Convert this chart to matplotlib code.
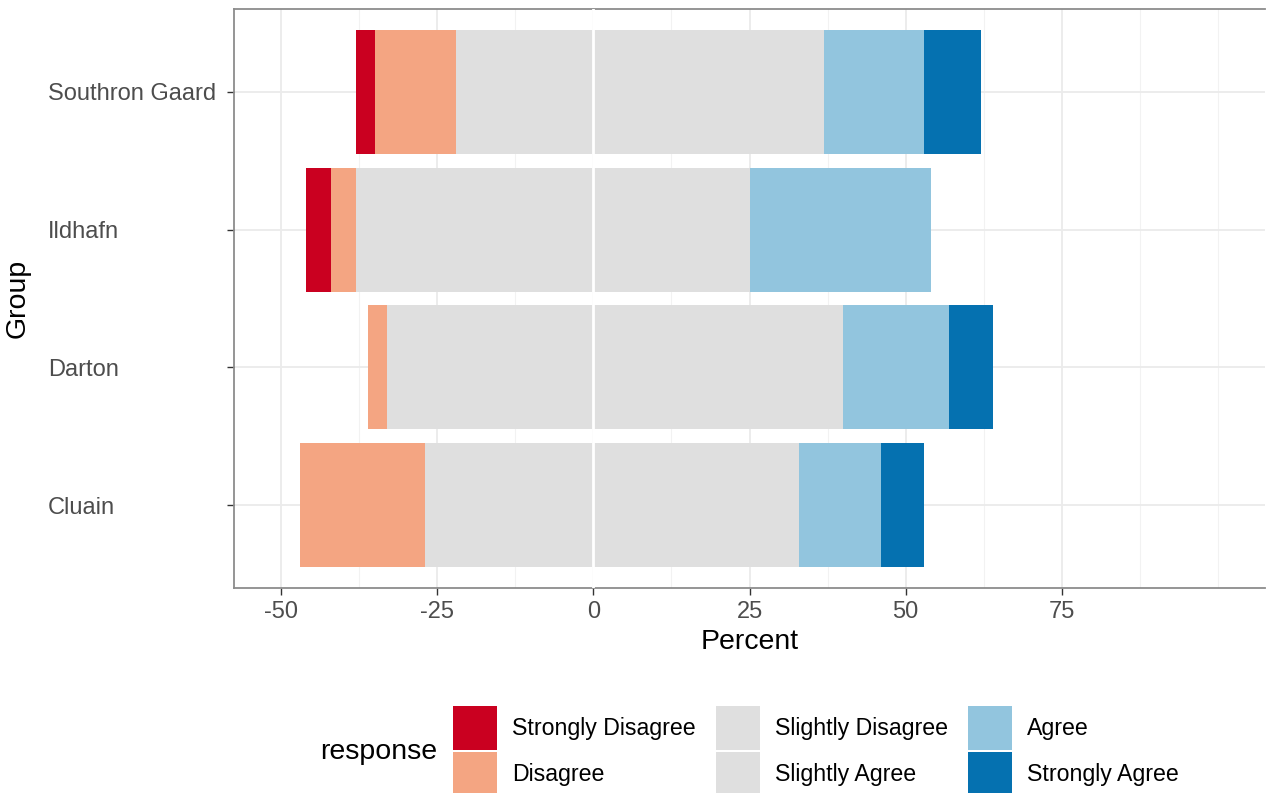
import numpy as np
import matplotlib.pyplot as plt
from matplotlib.patches import Patch

plt.rcParams['font.family'] = ['Liberation Sans', 'DejaVu Sans']
plt.rcParams['axes.unicode_minus'] = False

groups = ['Cluain', 'Darton', 'Ildhafn', 'Southron Gaard']
responses = ['Strongly Disagree', 'Disagree', 'Slightly Disagree',
             'Slightly Agree', 'Agree', 'Strongly Agree']
colors = ['#CA0020', '#F4A582', '#DFDFDF', '#DFDFDF', '#92C5DE', '#0571B0']

strongly_disagree = [0, 0, 4, 3]
disagree = [20, 3, 4, 13]
slightly_disagree = [27, 33, 38, 22]
slightly_agree = [33, 40, 25, 37]
agree = [13, 17, 29, 16]
strongly_agree = [7, 7, 0, 9]

xticks = [-50, -25, 0, 25, 50, 75]
xminor = [-37.5, -12.5, 12.5, 37.5, 62.5, 87.5, 100]

fig = plt.figure(figsize=(12.66, 7.93), dpi=100)
W, H = 1266, 793
ax = fig.add_axes([234 / W, 1 - 588 / H, 1031 / W, 579 / H])

y = np.arange(1, len(groups) + 1)
h = 0.9

# negative side: stack outward from zero
neg = [slightly_disagree, disagree, strongly_disagree]
neg_cols = [colors[2], colors[1], colors[0]]
left = np.zeros(len(groups))
for vals, c in zip(neg, neg_cols):
    v = np.array(vals, dtype=float)
    ax.barh(y, -v, left=-left, height=h, color=c, zorder=2)
    left += v

pos = [slightly_agree, agree, strongly_agree]
pos_cols = [colors[3], colors[4], colors[5]]
left = np.zeros(len(groups))
for vals, c in zip(pos, pos_cols):
    v = np.array(vals, dtype=float)
    ax.barh(y, v, left=left, height=h, color=c, zorder=2)
    left += v

ax.axvline(0, color='white', lw=2, zorder=3)

ax.set_xlim(-57.5, 107.5)
ax.set_ylim(0.4, 4.6)
ax.set_xticks(xticks)
ax.set_xticks(xminor, minor=True)
ax.set_yticks(y)
ax.set_yticklabels(groups, ha='left')
ax.grid(which='major', color='#ebebeb', lw=1.3, zorder=0)
ax.grid(which='minor', axis='x', color='#f2f2f2', lw=0.8, zorder=0)
ax.set_axisbelow(True)

ax.tick_params(axis='both', which='major', length=5, width=1, color='#333333',
               labelsize=17, labelcolor='#4d4d4d')
ax.tick_params(axis='x', pad=4)
ax.tick_params(axis='y', pad=129)
ax.tick_params(which='minor', length=0)

for s in ['left', 'top', 'bottom']:
    ax.spines[s].set_color('#8c8c8c')
    ax.spines[s].set_linewidth(1.3)
ax.spines['right'].set_visible(False)

fig.text(750 / W, 1 - 642 / H, 'Percent', ha='center', va='center', fontsize=20.5)
fig.text(18 / W, 1 - 298 / H, 'Group', ha='center', va='center', rotation=90, fontsize=20.5)

handles = [Patch(facecolor=c, edgecolor='none') for c in colors]
fig.legend(handles, responses, ncol=3, loc='upper left',
           bbox_to_anchor=(453 / W, 1 - 706 / H), frameon=False,
           fontsize=16.7, handlelength=1.9, handleheight=2.54,
           handletextpad=0.65, columnspacing=0.86, labelspacing=0.08,
           borderpad=0, borderaxespad=0)
fig.text(320 / W, 1 - 752 / H, 'response', ha='left', va='center', fontsize=20.5)

fig.savefig('out.png', dpi=100)
